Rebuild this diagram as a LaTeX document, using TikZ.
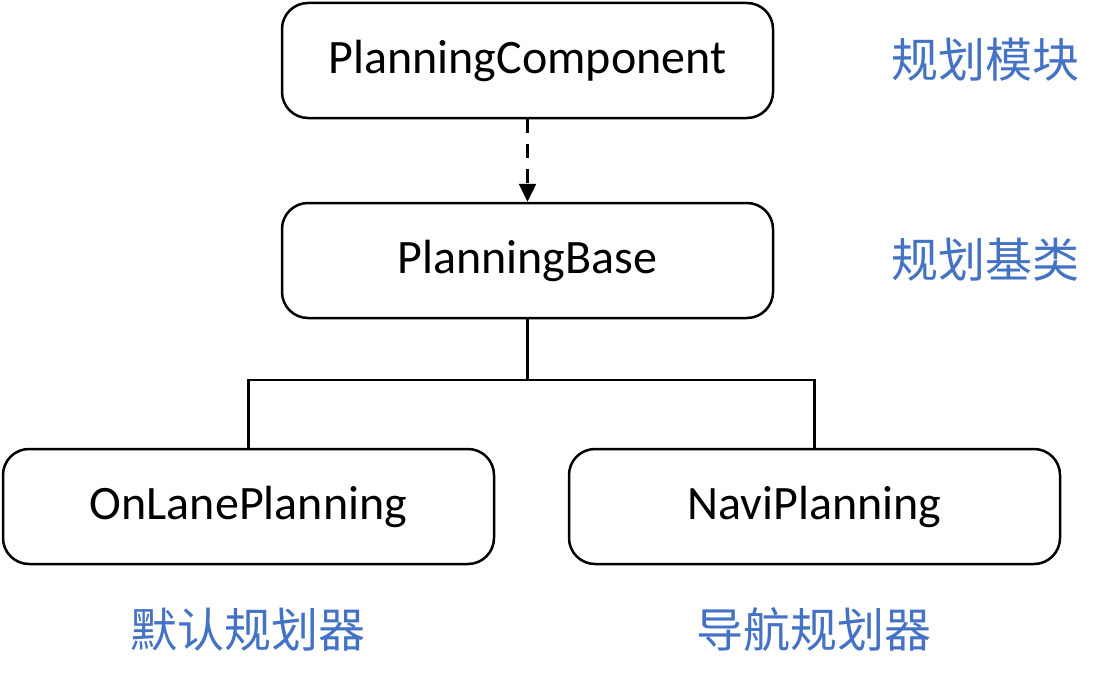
\documentclass[tikz,border=0pt]{standalone}
\usepackage{fontspec}
\setmainfont{Carlito}
\newfontfamily\cjk{Noto Sans CJK SC}
\usetikzlibrary{arrows.meta}
\definecolor{lblblue}{HTML}{4472C4}

\begin{document}
\begin{tikzpicture}[x=1pt,y=-1pt,
		box/.style={draw,line width=2.5pt,rounded corners=26pt,minimum width=491pt,minimum height=115pt,font=\fontsize{48}{58}\selectfont},
		lbl/.style={text=lblblue,font=\cjk\fontsize{47}{56}\selectfont}]
		\useasboundingbox (0,0) rectangle (1106,677);
		\node[box] (comp) at (527.5,60.5) {PlanningComponent};
		\node[box] (base) at (527.5,260.5) {PlanningBase};
		\node[box] (onlane) at (248.5,506.5) {OnLanePlanning};
		\node[box] (navi) at (814.5,506.5) {NaviPlanning};
		\coordinate (fork) at (527.5,380);
		\draw[line width=2.5pt,dash pattern=on 14pt off 11pt,-{Triangle[width=17pt,length=18pt]}] (comp) -- (base);
		\draw[line width=2.5pt] (base) -- (fork);
		\draw[line width=2.5pt] (onlane.north) |- (fork) -| (navi.north);
		\node[lbl] (l1) at (985,60) {规划模块};
		\node[lbl] (l2) at (985,260) {规划基类};
		\node[lbl] (l3) at (248,630) {默认规划器};
		\node[lbl] (l4) at (814,630) {导航规划器};
	\end{tikzpicture}
\end{document}
